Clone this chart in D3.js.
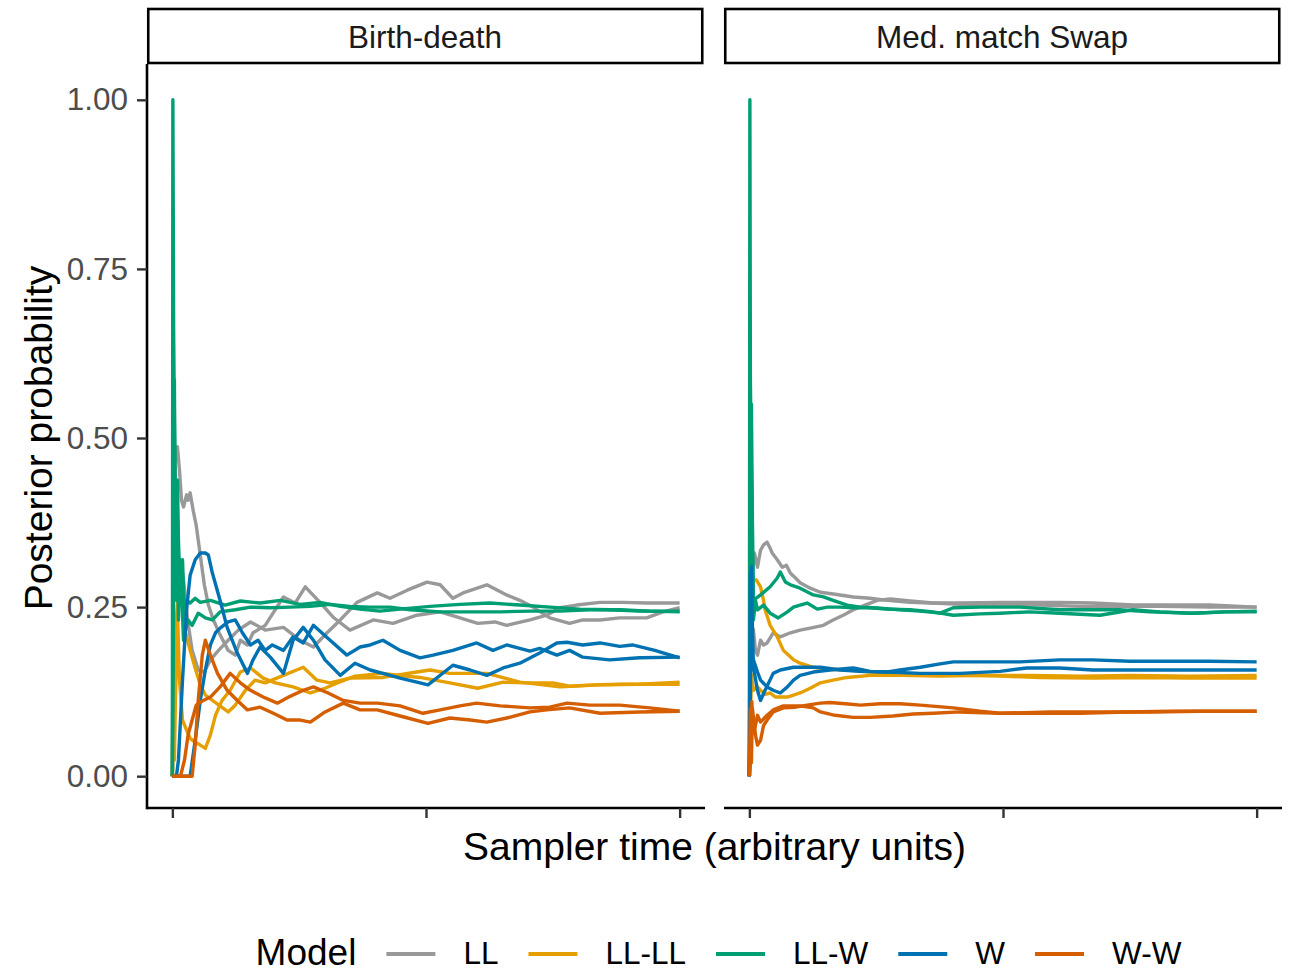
<!DOCTYPE html>
<html>
<head>
<meta charset="utf-8">
<script src="https://cdn.jsdelivr.net/npm/d3@7"></script>
<style>
  body { margin: 0; background: #ffffff; }
  svg { display: block; font-family: "Liberation Sans", Arial, Helvetica, sans-serif; }
</style>
</head>
<body>
<div id="chart"></div>
<script>
// --- Data ---

const facets = ["Birth-death", "Med. match Swap"];
const models = ["LL", "LL-LL", "LL-W", "W", "W-W"];
const modelColors = ["#999999", "#E69F00", "#009E73", "#0072B2", "#D55E00"];
const yTicks = [0, 0.25, 0.5, 0.75, 1];
const yTickLabels = ["0.00", "0.25", "0.50", "0.75", "1.00"];
const xTicks = [0, 50, 100]; // arbitrary units, no labels

// Birth-death: [sampler time, posterior probability], two chains per model
const bdLL_1 = [[0,0],[0.2,0.408],[0.6,0.482],[1.0,0.487],[1.4,0.453],[1.8,0.408],[2.2,0.398],[2.8,0.416],[3.1,0.408],[3.5,0.419],[4.1,0.393],[4.7,0.371],[5.5,0.327],[6.3,0.283],[7.1,0.253],[8.1,0.231],[9.4,0.209],[11.0,0.186],[12.4,0.179],[13.4,0.201],[14.8,0.194],[15.9,0.212],[18.3,0.223],[21.9,0.265],[24.2,0.256],[26.2,0.28],[29.1,0.257],[31.7,0.235],[35.0,0.216],[39.6,0.231],[43.5,0.226],[48.2,0.238],[52.8,0.243],[56.7,0.234],[60.2,0.226],[63.6,0.228],[65.9,0.223],[70.5,0.231],[73.8,0.238],[76.4,0.249],[79.7,0.253],[84.3,0.257],[88.8,0.257],[93.5,0.256],[100,0.256]];
const bdLL_2 = [[0,0],[0.2,0.32],[0.6,0.379],[1.0,0.26],[1.6,0.32],[2.2,0.29],[3.0,0.231],[3.9,0.186],[5.1,0.157],[6.3,0.154],[7.5,0.172],[9.1,0.186],[11.0,0.201],[13.0,0.216],[15.4,0.228],[18.3,0.216],[21.9,0.22],[25.2,0.201],[27.8,0.191],[30.5,0.212],[33.1,0.231],[36.4,0.257],[40.4,0.271],[42.9,0.263],[46.3,0.275],[50.2,0.287],[52.8,0.283],[55.3,0.263],[57.3,0.271],[62.0,0.283],[65.9,0.268],[68.5,0.26],[71.1,0.25],[74.4,0.234],[78.3,0.226],[80.9,0.231],[84.3,0.231],[88.2,0.234],[93.5,0.234],[96.7,0.243],[100,0.249]];
const bdLLLL_1 = [[0,0],[0.4,0.112],[0.8,0.231],[1.2,0.275],[1.6,0.293],[2.0,0.26],[2.6,0.212],[3.5,0.186],[4.5,0.16],[5.5,0.135],[6.5,0.12],[7.9,0.112],[9.4,0.104],[11.0,0.095],[12.4,0.105],[14.4,0.127],[16.3,0.142],[18.3,0.138],[21.9,0.149],[25.8,0.161],[28.5,0.142],[31.1,0.138],[35.0,0.145],[41.5,0.146],[48.2,0.154],[50.8,0.157],[54.7,0.152],[62.0,0.152],[68.5,0.139],[76.4,0.132],[84.3,0.135],[92.1,0.136],[100,0.139]];
const bdLLLL_2 = [[0,0],[0.2,0.186],[0.4,0.024],[0.6,0.112],[1.0,0.246],[1.4,0.142],[2.0,0.083],[2.8,0.068],[3.5,0.056],[4.5,0.05],[5.5,0.046],[6.5,0.041],[7.5,0.061],[8.5,0.09],[9.8,0.112],[11.4,0.127],[13.4,0.154],[15.4,0.16],[17.9,0.145],[20.3,0.138],[23.8,0.132],[27.2,0.123],[30.1,0.13],[32.5,0.138],[36.0,0.148],[41.5,0.152],[45.9,0.148],[48.8,0.146],[54.7,0.138],[60.2,0.13],[65.2,0.139],[69.9,0.138],[75.0,0.138],[78.3,0.133],[82.9,0.135],[88.2,0.136],[94.7,0.136],[100,0.136]];
const bdLLW_1 = [[0,0],[0.1,1.0],[0.25,0.66],[0.4,0.527],[0.6,0.408],[0.8,0.32],[1.0,0.438],[1.2,0.349],[1.6,0.26],[2.0,0.32],[2.4,0.231],[2.8,0.26],[3.5,0.256],[4.5,0.263],[5.5,0.257],[7.5,0.26],[10.4,0.253],[13.4,0.259],[17.3,0.256],[21.3,0.26],[25.2,0.254],[29.1,0.257],[33.1,0.251],[37.0,0.247],[40.9,0.244],[44.9,0.247],[50.8,0.251],[56.7,0.254],[62.6,0.256],[68.5,0.253],[74.4,0.25],[80.3,0.247],[86.2,0.246],[92.1,0.244],[100,0.244]];
const bdLLW_2 = [[0,0],[0.2,0.2],[0.4,0.586],[0.6,0.32],[0.8,0.26],[1.0,0.379],[1.2,0.231],[1.4,0.32],[1.8,0.275],[2.2,0.201],[2.6,0.216],[3.1,0.231],[3.9,0.223],[5.1,0.241],[6.5,0.234],[7.9,0.231],[9.4,0.243],[12.4,0.246],[15.4,0.25],[19.3,0.249],[23.2,0.25],[27.2,0.251],[31.1,0.254],[35.0,0.251],[39.0,0.25],[42.9,0.25],[46.9,0.246],[52.8,0.243],[58.7,0.243],[64.6,0.243],[70.5,0.244],[76.4,0.244],[82.3,0.246],[88.2,0.246],[94.1,0.244],[100,0.243]];
const bdW_1 = [[0,0],[0.8,0],[1.2,0.024],[2.0,0.142],[2.8,0.246],[3.5,0.297],[4.5,0.32],[5.5,0.33],[6.5,0.33],[7.1,0.327],[7.9,0.3],[9.4,0.26],[10.8,0.22],[12.8,0.182],[14.8,0.152],[15.9,0.172],[17.3,0.191],[19.3,0.176],[21.9,0.152],[23.8,0.201],[25.8,0.22],[27.8,0.201],[30.1,0.172],[33.1,0.149],[36.0,0.167],[39.0,0.157],[41.5,0.152],[44.9,0.145],[48.2,0.139],[50.4,0.135],[55.3,0.164],[58.7,0.157],[62.0,0.149],[65.2,0.16],[68.5,0.167],[72.4,0.182],[75.8,0.197],[77.8,0.198],[80.9,0.194],[84.3,0.197],[88.2,0.192],[90.7,0.194],[95.1,0.186],[100,0.175]];
const bdW_2 = [[0,0],[3.5,0],[4.5,0.053],[5.5,0.112],[6.5,0.157],[7.5,0.194],[8.5,0.212],[9.4,0.219],[11.0,0.228],[12.4,0.231],[13.8,0.212],[15.4,0.194],[16.9,0.201],[18.3,0.186],[19.7,0.194],[21.9,0.186],[23.8,0.206],[25.8,0.197],[27.8,0.223],[31.1,0.201],[34.4,0.179],[37.0,0.191],[39.0,0.194],[41.5,0.201],[44.9,0.186],[48.8,0.175],[51.4,0.179],[55.3,0.186],[60.0,0.197],[63.2,0.186],[65.9,0.194],[70.5,0.185],[72.4,0.189],[75.8,0.179],[78.3,0.186],[80.9,0.176],[86.2,0.172],[92.1,0.175],[100,0.176]];
const bdWW_1 = [[0,0],[3.9,0],[4.5,0.046],[5.1,0.112],[5.9,0.179],[6.5,0.201],[7.5,0.179],[8.9,0.152],[10.8,0.127],[12.8,0.112],[14.8,0.098],[17.3,0.102],[19.9,0.093],[22.6,0.083],[25.2,0.083],[27.2,0.08],[30.1,0.095],[33.7,0.108],[37.0,0.098],[40.4,0.098],[44.9,0.089],[50.4,0.078],[54.7,0.086],[58.7,0.083],[62.0,0.08],[65.9,0.086],[70.5,0.095],[73.8,0.098],[78.3,0.101],[84.3,0.093],[92.1,0.095],[100,0.096]];
const bdWW_2 = [[0,0],[1.6,0],[2.4,0.024],[3.1,0.061],[3.9,0.083],[4.7,0.105],[6.1,0.112],[7.5,0.117],[9.4,0.132],[11.4,0.152],[13.4,0.138],[15.4,0.127],[17.9,0.117],[20.7,0.108],[23.2,0.118],[25.8,0.127],[27.8,0.132],[30.7,0.123],[33.7,0.112],[37.0,0.108],[40.4,0.108],[44.9,0.104],[49.4,0.093],[52.8,0.098],[56.7,0.104],[60.0,0.108],[64.6,0.104],[70.5,0.101],[74.4,0.102],[77.8,0.108],[82.3,0.105],[88.2,0.105],[94.1,0.101],[100,0.096]];

// Med. match Swap
const msLL_1 = [[0,0],[0.3,0.42],[0.6,0.3],[1.0,0.33],[1.6,0.309],[2.2,0.334],[2.8,0.342],[3.5,0.346],[4.1,0.337],[4.5,0.33],[5.5,0.32],[6.5,0.309],[7.3,0.312],[8.1,0.3],[9.1,0.293],[10.0,0.286],[12.0,0.278],[14.0,0.272],[16.9,0.269],[20.5,0.265],[23.8,0.263],[27.2,0.26],[31.7,0.257],[36.2,0.256],[41.5,0.256],[49.4,0.257],[54.7,0.257],[61.2,0.257],[67.7,0.256],[75.6,0.253],[83.1,0.253],[90.7,0.253],[100,0.25]];
const msLL_2 = [[0,0],[0.3,0.3],[0.6,0.22],[0.8,0.216],[1.2,0.186],[1.6,0.179],[2.2,0.201],[2.8,0.194],[3.5,0.197],[4.7,0.212],[6.1,0.206],[8.1,0.212],[10.0,0.216],[12.0,0.219],[14.6,0.223],[16.5,0.231],[18.5,0.238],[20.5,0.246],[22.8,0.253],[25.2,0.26],[27.8,0.262],[31.7,0.259],[36.2,0.256],[41.5,0.254],[49.4,0.254],[57.3,0.253],[65.2,0.251],[73.0,0.251],[80.9,0.251],[90.7,0.25],[100,0.25]];
const msLLLL_1 = [[0,0],[0.3,0.2],[0.6,0.29],[1.4,0.29],[2.2,0.28],[2.8,0.26],[3.1,0.246],[4.1,0.223],[5.5,0.206],[6.7,0.186],[7.7,0.179],[8.7,0.172],[10.0,0.167],[12.6,0.161],[15.9,0.158],[19.3,0.157],[23.8,0.154],[29.7,0.152],[35.6,0.149],[41.5,0.149],[49.4,0.148],[57.3,0.146],[67.7,0.145],[77.0,0.146],[86.8,0.145],[100,0.145]];
const msLLLL_2 = [[0,0],[0.4,0.15],[0.8,0.127],[1.6,0.132],[2.2,0.127],[3.1,0.121],[4.1,0.123],[5.1,0.117],[6.1,0.117],[7.5,0.117],[8.7,0.12],[10.0,0.123],[12.0,0.13],[14.0,0.138],[16.5,0.142],[19.3,0.146],[23.8,0.149],[29.7,0.149],[37.6,0.148],[45.5,0.149],[55.3,0.149],[65.2,0.148],[75.0,0.149],[86.8,0.148],[100,0.149]];
const msLLW_1 = [[0,0],[0.1,1.0],[0.2,0.586],[0.4,0.453],[0.6,0.32],[0.8,0.231],[1.2,0.26],[1.6,0.246],[2.8,0.253],[4.1,0.241],[5.7,0.234],[7.5,0.243],[8.7,0.25],[10.0,0.253],[11.4,0.256],[13.4,0.247],[15.4,0.25],[17.9,0.25],[20.5,0.249],[23.8,0.249],[27.2,0.247],[31.7,0.246],[36.2,0.243],[40.2,0.238],[45.5,0.24],[49.4,0.241],[55.3,0.243],[61.2,0.241],[69.1,0.238],[75.6,0.246],[80.9,0.243],[87.4,0.241],[93.7,0.243],[100,0.243]];
const msLLW_2 = [[0,0],[0.2,0.45],[0.4,0.55],[0.6,0.38],[0.8,0.26],[2.2,0.268],[4.1,0.28],[5.5,0.293],[6.1,0.302],[7.1,0.287],[8.1,0.283],[10.0,0.278],[12.6,0.268],[14.6,0.265],[16.5,0.26],[19.3,0.253],[21.9,0.25],[24.4,0.249],[29.7,0.246],[33.7,0.244],[37.6,0.241],[40.2,0.249],[45.5,0.25],[53.3,0.25],[61.2,0.246],[65.2,0.246],[73.0,0.246],[78.9,0.243],[87.4,0.241],[93.7,0.243],[100,0.244]];
const msW_1 = [[0,0],[0.2,0.3],[0.4,0.2],[0.6,0.16],[0.8,0.172],[1.6,0.154],[2.2,0.142],[3.5,0.132],[4.7,0.127],[6.1,0.123],[7.5,0.132],[8.7,0.142],[10.0,0.149],[12.6,0.154],[15.9,0.157],[20.5,0.16],[23.8,0.155],[27.2,0.154],[29.7,0.157],[33.7,0.161],[37.6,0.166],[40.2,0.169],[45.5,0.169],[53.3,0.169],[61.2,0.172],[67.7,0.172],[75.0,0.17],[83.1,0.17],[90.7,0.17],[100,0.169]];
const msW_2 = [[0,0],[0.2,0.12],[0.4,0.31],[0.6,0.22],[0.8,0.161],[1.6,0.127],[2.2,0.112],[3.1,0.127],[4.7,0.152],[6.1,0.157],[8.7,0.161],[11.4,0.161],[14.0,0.161],[17.9,0.157],[21.9,0.155],[27.2,0.154],[33.7,0.152],[41.5,0.152],[49.4,0.155],[54.7,0.16],[61.2,0.16],[67.7,0.157],[77.0,0.157],[86.8,0.157],[100,0.157]];
const msWW_1 = [[0,0],[0.2,0.1],[0.4,0.02],[0.6,0.1],[0.8,0.087],[1.2,0.061],[1.6,0.046],[2.2,0.053],[2.8,0.075],[3.5,0.083],[4.7,0.095],[6.7,0.101],[9.1,0.102],[11.4,0.105],[14.0,0.108],[15.9,0.109],[18.9,0.107],[21.9,0.105],[25.8,0.107],[29.7,0.107],[33.7,0.105],[40.2,0.101],[45.5,0.096],[49.4,0.093],[55.3,0.093],[65.2,0.093],[74.4,0.095],[83.1,0.096],[90.7,0.096],[100,0.096]];
const msWW_2 = [[0,0],[0.3,0.03],[0.5,0.11],[0.6,0.083],[1.0,0.068],[1.6,0.09],[2.2,0.08],[3.5,0.09],[4.7,0.098],[6.7,0.104],[10.0,0.104],[12.6,0.101],[14.0,0.095],[16.9,0.09],[20.5,0.087],[23.8,0.087],[28.3,0.089],[32.3,0.092],[36.2,0.093],[41.5,0.095],[49.4,0.093],[59.3,0.095],[69.1,0.095],[78.9,0.095],[88.8,0.096],[100,0.096]];

// group the chains: facet -> model -> chains
const traces = [
  [[bdLL_1, bdLL_2], [bdLLLL_1, bdLLLL_2], [bdLLW_1, bdLLW_2], [bdW_1, bdW_2], [bdWW_1, bdWW_2]],
  [[msLL_1, msLL_2], [msLLLL_1, msLLLL_2], [msLLW_1, msLLW_2], [msW_1, msW_2], [msWW_1, msWW_2]]
];

// --- Layout ---
const W = 1291, H = 974;
const panelTop = 66, panelBottom = 810;
const panels = [{x0: 147, x1: 705}, {x0: 724, x1: 1282}];
const stripTop = 9, stripH = 54;
const bigFont = 39, smallFont = 31.5;

const svg = d3.select("#chart").append("svg")
    .attr("width", W)
    .attr("height", H);

const y = d3.scaleLinear()
    .domain([-0.05, 1.05])
    .range([panelBottom, panelTop]);

const color = d3.scaleOrdinal().domain(models).range(modelColors);

facets.forEach(function (facet, fi) {
    const p = panels[fi];
    const x = d3.scaleLinear()
        .domain([-5, 105])
        .range([p.x0, p.x1]);

    const g = svg.append("g");

    // strip
    g.append("rect")
        .attr("x", p.x0 + 1.25)
        .attr("y", stripTop)
        .attr("width", p.x1 - p.x0 - 4)
        .attr("height", stripH)
        .attr("fill", "white")
        .attr("stroke", "#000")
        .attr("stroke-width", 2.6);
    g.append("text")
        .attr("x", (p.x0 + p.x1 - 2) / 2)
        .attr("y", stripTop + stripH / 2 + 1)
        .attr("dy", "0.36em")
        .attr("text-anchor", "middle")
        .attr("font-size", smallFont)
        .attr("fill", "#1a1a1a")
        .text(facet);

    // lines
    const line = d3.line()
        .x(function (d) { return x(d[0]); })
        .y(function (d) { return y(d[1]); });

    const clipId = "clip" + fi;
    svg.append("clipPath").attr("id", clipId)
        .append("rect")
        .attr("x", p.x0).attr("y", panelTop - 4)
        .attr("width", p.x1 - p.x0).attr("height", panelBottom - panelTop + 4);

    const lg = g.append("g").attr("clip-path", "url(#" + clipId + ")");
    models.forEach(function (m, mi) {
        traces[fi][mi].forEach(function (chain) {
            lg.append("path")
                .datum(chain)
                .attr("d", line)
                .attr("fill", "none")
                .attr("stroke", color(m))
                .attr("stroke-width", 3.4)
                .attr("stroke-linejoin", "round");
        });
    });

    // x axis
    const xAxis = d3.axisBottom(x)
        .tickValues(xTicks)
        .tickSize(10)
        .tickSizeOuter(0)
        .tickFormat("");
    const xg = g.append("g")
        .attr("transform", "translate(0," + (panelBottom - 2) + ")")
        .call(xAxis);
    xg.select(".domain")
        .attr("d", "M" + p.x0 + ",0H" + p.x1)
        .attr("stroke", "#000")
        .attr("stroke-width", 2.6);
    xg.selectAll(".tick line").attr("stroke", "#333333").attr("stroke-width", 2.4);

    // y axis only on the first panel
    if (fi === 0) {
        const yAxis = d3.axisLeft(y)
            .tickValues(yTicks)
            .tickSize(10)
            .tickPadding(9)
            .tickSizeOuter(0)
            .tickFormat(function (d, i) { return yTickLabels[i]; });
        const yg = g.append("g")
            .attr("transform", "translate(" + p.x0 + ",0)")
            .call(yAxis);
        yg.select(".domain")
            .attr("d", "M0," + (panelTop - 2) + "V" + (panelBottom - 0.7))
            .attr("stroke", "#000")
            .attr("stroke-width", 2.6);
        yg.selectAll(".tick line").attr("stroke", "#333333").attr("stroke-width", 2.4);
        yg.selectAll(".tick text")
            .attr("font-size", smallFont)
            .attr("font-family", "Liberation Sans, Arial, sans-serif")
            .attr("fill", "#4d4d4d");
    }
});

// axis titles
svg.append("text")
    .attr("x", (panels[0].x0 + panels[1].x1) / 2)
    .attr("y", 860)
    .attr("text-anchor", "middle")
    .attr("font-size", bigFont)
    .attr("fill", "#000")
    .text("Sampler time (arbitrary units)");

svg.append("text")
    .attr("transform", "translate(52," + y(0.5) + ") rotate(-90)")
    .attr("text-anchor", "middle")
    .attr("font-size", bigFont)
    .attr("fill", "#000")
    .text("Posterior probability");

// legend
const legend = svg.append("g");
const legendY = 952;
const keyLen = 49, keyGap = 28, itemGap = 30;

const title = legend.append("text")
    .attr("x", 0)
    .attr("y", legendY)
    .attr("dy", "0.36em")
    .attr("font-size", 37)
    .text("Model");
let cursor = title.node().getComputedTextLength() + itemGap;

models.forEach(function (m) {
    legend.append("line")
        .attr("x1", cursor).attr("x2", cursor + keyLen)
        .attr("y1", legendY + 2).attr("y2", legendY + 2)
        .attr("stroke", color(m))
        .attr("stroke-width", 4);
    cursor += keyLen + keyGap;
    const t = legend.append("text")
        .attr("x", cursor)
        .attr("y", legendY + 1)
        .attr("dy", "0.36em")
        .attr("font-size", smallFont)
        .attr("fill", "#000")
        .text(m);
    cursor += t.node().getComputedTextLength() + itemGap;
});
cursor -= itemGap;
legend.attr("transform", "translate(" + ((panels[0].x0 + panels[1].x1) / 2 + 4 - cursor / 2) + ",0)");
</script>
</body>
</html>
